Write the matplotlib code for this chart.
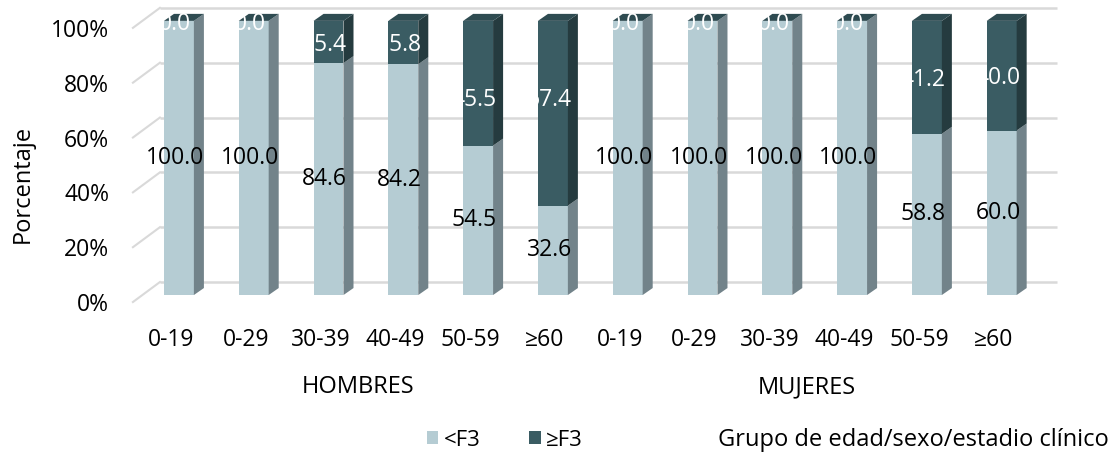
import numpy as np
import matplotlib.pyplot as plt
from matplotlib.patches import Polygon, Patch

plt.rcParams["font.family"] = ["Open Sans", "DejaVu Sans"]

# datos
grupos_edad = ["0-19", "0-29", "30-39", "40-49", "50-59", "≥60",
               "0-19", "0-29", "30-39", "40-49", "50-59", "≥60"]
sexos = ["HOMBRES", "MUJERES"]
menor_f3 = [100.0, 100.0, 84.6, 84.2, 54.5, 32.6,
            100.0, 100.0, 100.0, 100.0, 58.8, 60.0]
mayor_f3 = [0.0, 0.0, 15.4, 15.8, 45.5, 67.4,
            0.0, 0.0, 0.0, 0.0, 41.2, 40.0]
ticks_pct = [0, 20, 40, 60, 80, 100]

# colores tipo Excel 3D
claro = "#b5ccd3"
claro_lado = "#72838a"
oscuro = "#3a5c63"
oscuro_lado = "#253b3f"
oscuro_tope = "#2e4b51"
gris_grid = "#d9d9d9"

fs_num = 16.5
fs_txt = 17

fig = plt.figure(figsize=(11.17, 4.59), dpi=100)
ax = fig.add_axes([0.119, 0.342, 0.830, 0.643])
ax.set_xlim(-0.615, 11.78)
ax.set_ylim(-2.55, 105.1)
for s in ax.spines.values():
    s.set_visible(False)

# profundidad de barras y de la pared del fondo
w = 0.2
dx, dy = 0.134, 2.55
fondo_x, fondo_y = 0.361, 4.74
x0 = -0.615

# pared del fondo con lineas de cuadricula
for v in ticks_pct:
    ax.plot([x0 + fondo_x, 11.74], [v + fondo_y, v + fondo_y],
            color=gris_grid, lw=1.8, zorder=1, solid_capstyle="butt")
    ax.plot([x0, x0 + fondo_x], [v - 2.55, v + fondo_y],
            color=gris_grid, lw=1.5, zorder=1, clip_on=False)


def segmento(c, y0, y1, cara, lado, tope=None):
    if y1 > y0:
        ax.add_patch(Polygon([(c - w, y0), (c + w, y0), (c + w, y1), (c - w, y1)],
                             closed=True, facecolor=cara, edgecolor="none", zorder=3))
        ax.add_patch(Polygon([(c + w, y0), (c + w + dx, y0 + dy),
                              (c + w + dx, y1 + dy), (c + w, y1)],
                             closed=True, facecolor=lado, edgecolor="none", zorder=3))
    if tope is not None:
        ax.add_patch(Polygon([(c - w, y1), (c - w + dx, y1 + dy),
                              (c + w + dx, y1 + dy), (c + w, y1)],
                             closed=True, facecolor=tope, edgecolor="none", zorder=3))


for i in range(len(grupos_edad)):
    a = menor_f3[i]
    b = mayor_f3[i]
    segmento(i, 0, a, claro, claro_lado)
    segmento(i, a, a + b, oscuro, oscuro_lado, oscuro_tope)
    ax.text(i - 0.05, a / 2, f"{a:.1f}", ha="center", va="center",
            fontsize=fs_num, color="black", zorder=5)
    # en 50-59 y >=60 de hombres Excel deja la etiqueta algo mas abajo
    y_osc = a + b / 2 - 1
    if i in (4, 5):
        y_osc = 71
    ax.text(i - 0.05, y_osc, f"{b:.1f}", ha="center", va="center",
            fontsize=fs_num, color="white", zorder=5)

# ejes
ax.set_yticks([v - 2.55 for v in ticks_pct])
ax.set_yticklabels([f"{v}%" for v in ticks_pct], fontsize=fs_num)
ax.set_xticks([i - 0.107 for i in range(len(grupos_edad))])
ax.set_xticklabels(grupos_edad, fontsize=fs_num)
ax.tick_params(axis="y", length=0, pad=17)
ax.tick_params(axis="x", length=0, pad=19)

# etiquetas de sexo
for xs, nombre in zip([2.39, 8.39], sexos):
    ax.text(xs, -33.6, nombre, ha="center", va="center", fontsize=fs_txt, clip_on=False)

fig.text(23 / 1117, 1 - 184 / 459, "Porcentaje", rotation=90,
         ha="center", va="center", fontsize=fs_txt)

handles = [Patch(facecolor=claro, label="<F3"), Patch(facecolor=oscuro, label="≥F3")]
fig.legend(handles=handles, loc="center", bbox_to_anchor=(505 / 1117, 1 - 440 / 459),
           ncol=2, frameon=False, fontsize=16, handlelength=0.5, handleheight=0.5,
           handletextpad=0.25, columnspacing=2.2)
fig.text(718 / 1117, 1 - 440 / 459, "Grupo de edad/sexo/estadio clínico",
         ha="left", va="center", fontsize=fs_txt)

fig.savefig("out.png", dpi=100)
